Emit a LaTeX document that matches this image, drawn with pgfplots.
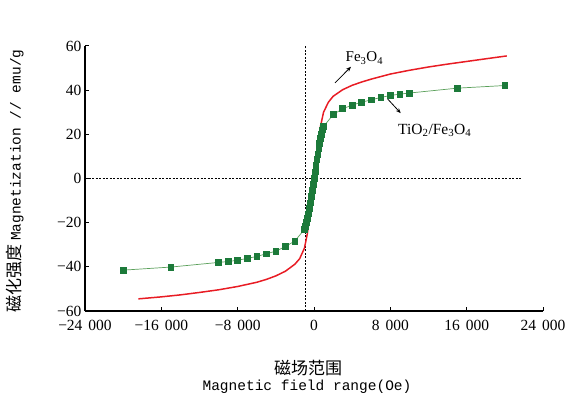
\documentclass[border=0pt]{standalone}
\usepackage{pgfplots}
\pgfplotsset{compat=1.18}
\usetikzlibrary{arrows.meta}
\usepackage{fontspec}
\setmainfont{Liberation Serif}
\newfontfamily\monofont{Liberation Mono}
\newfontfamily\cjk{Noto Sans CJK SC}
\definecolor{myred}{RGB}{232,28,36}
\definecolor{mygreen}{RGB}{28,122,58}
\definecolor{mylgreen}{RGB}{90,160,90}
\pgfplotstableread{
x y
-20000 -41.5
-15000 -40.1
-10000 -38.0
-9000 -37.6
-8000 -37.0
-7000 -36.2
-6000 -35.3
-5000 -34.1
-4000 -32.9
-3000 -30.8
-2000 -28.3
-1000 -23.0
-900 -21.5
-800 -20.0
-700 -18.0
-600 -16.0
-500 -13.5
-400 -11.0
-300 -8.0
-200 -5.5
-100 -2.5
0 0
100 3.0
200 6.0
300 8.5
400 11.0
500 13.5
600 16.0
700 18.0
800 20.0
900 22.0
1000 23.5
2000 28.9
3000 31.6
4000 33.2
5000 34.6
6000 35.6
7000 36.7
8000 37.6
9000 38.2
10000 38.7
15000 40.9
20000 42.1
}\tiofe
\pgfplotstableread{
x y
-18400 -54.5
-16000 -53.6
-14000 -52.7
-12000 -51.6
-10000 -50.4
-8000 -48.9
-6000 -47.0
-5000 -45.7
-4000 -44.1
-3000 -42.0
-2000 -38.8
-1500 -36.3
-1000 -31.5
-700 -25.0
-400 -15.0
-200 -7.5
0 0
200 7.5
400 15.0
700 24.0
1000 30.0
1500 34.5
2000 37.2
3000 40.2
4000 42.2
5000 43.7
6000 45.0
8000 47.3
10000 49.0
12000 50.5
14000 51.8
16000 53.0
18000 54.2
20200 55.5
}\fe
\begin{document}
\begin{tikzpicture}
\begin{axis}[
  scale only axis, width=458bp, height=265bp,
  xmin=-24000, xmax=24000, ymin=-60, ymax=60,
  axis x line*=bottom, axis y line*=left,
  axis line style={line width=1.2pt},
  tick style={line width=1pt, black},
  tick align=inside, major tick length=4bp,
  scaled x ticks=false,
  xtick={-24000,-16000,-8000,0,8000,16000,24000},
  xticklabels={−24\hspace{6bp}000,−16\hspace{6bp}000,−8\hspace{6bp}000,0,8\hspace{6bp}000,16\hspace{6bp}000,24\hspace{6bp}000},
  ytick={-60,-40,-20,0,20,40,60},
  yticklabels={−60,−40,−20,0,20,40,60},
  tick label style={font=\fontsize{15.5bp}{18bp}\selectfont},
  xticklabel style={yshift=-6bp},
  clip=false,
]
\addplot[black, line width=0.6pt, dash pattern=on 2bp off 1.5bp] coordinates {(-24000,0) (21800,0)};
\addplot[black, line width=0.6pt, dash pattern=on 2bp off 1.5bp] coordinates {(-900,-60) (-900,60)};
\addplot[myred, line width=1.5pt, no marks] table[x=x,y=y] {\fe};
\addplot[mylgreen, line width=0.7pt, mark=square*, mark size=2.9bp,
  mark options={fill=mygreen, draw=mygreen, solid}] table[x=x,y=y] {\tiofe};
\draw[-{Stealth[length=5bp,width=4bp]}, line width=0.8pt] (axis cs:2200,43.3) -- (axis cs:3880,50.6);
\node[anchor=west, inner sep=0pt, font=\fontsize{15bp}{18bp}\selectfont] at (axis cs:3300,54.5) {Fe\textsubscript{3}O\textsubscript{4}};
\draw[-{Stealth[length=5bp,width=4bp]}, line width=0.8pt] (axis cs:7720,36) -- (axis cs:9090,29.6);
\node[anchor=west, inner sep=0pt, font=\fontsize{15.5bp}{18bp}\selectfont] at (axis cs:8800,21.7) {TiO\textsubscript{2}/Fe\textsubscript{3}O\textsubscript{4}};
\end{axis}
\node[rotate=90, font=\fontsize{14.5bp}{17bp}\selectfont] at (-70bp,130bp) {{\cjk\fontsize{17bp}{17bp}\selectfont 磁化强度}\ {\monofont Magnetization // emu/g}};
\node[font=\fontsize{17bp}{18bp}\selectfont\cjk] at (223bp,-57bp) {磁场范围};
\node[font=\fontsize{14.5bp}{17bp}\selectfont\monofont] at (222bp,-76bp) {Magnetic field range(Oe)};
\pgfresetboundingbox
\path[use as bounding box] (-85bp,-88bp) rectangle (487bp,311bp);
\end{tikzpicture}
\end{document}
